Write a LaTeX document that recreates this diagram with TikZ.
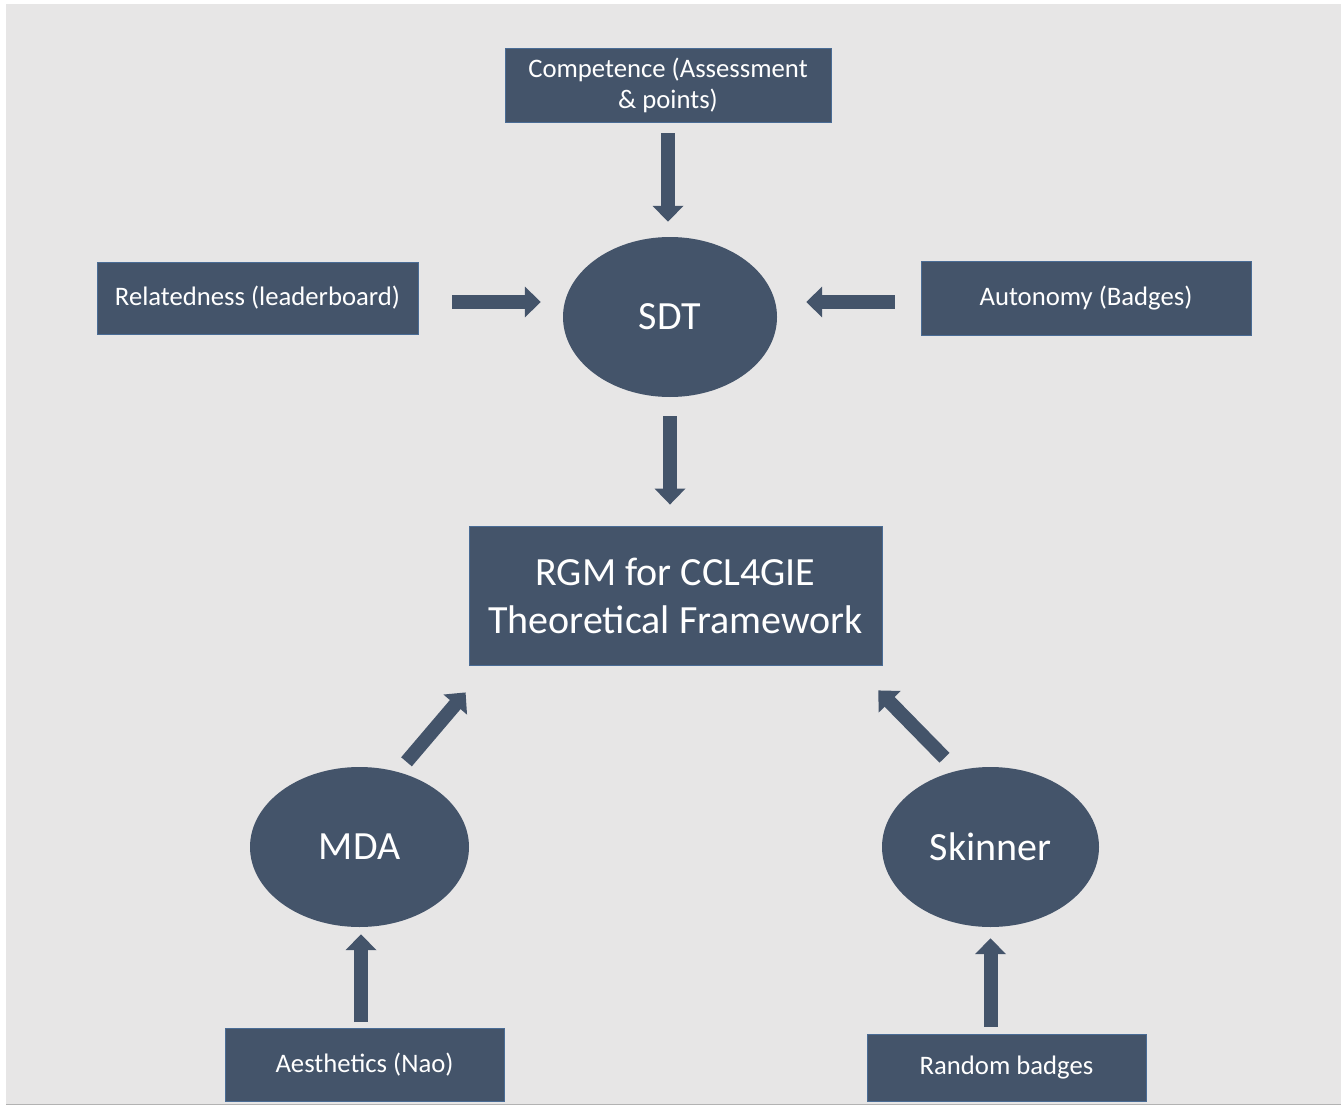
\documentclass[tikz,border=0pt]{standalone}
\usepackage{fontspec}
\setsansfont{Carlito}
\usetikzlibrary{arrows.meta,calc,shapes.geometric}
\definecolor{slate}{HTML}{44546A}
\definecolor{slateedge}{HTML}{4A6C95}
\definecolor{paper}{HTML}{E7E6E6}
\begin{document}
\begin{tikzpicture}[
  x=1pt, y=-1pt,
  font=\sffamily,
  box/.style={draw=slateedge, fill=slate, line width=0.8pt, text=white, align=center, inner sep=0pt, font=\sffamily\fontsize{26.7}{31}\selectfont},
  bigbox/.style={box, font=\sffamily\fontsize{40}{48}\selectfont},
  blob/.style={ellipse, fill=slate, text=white, inner sep=0pt, font=\sffamily\fontsize{40}{44}\selectfont},
  flow/.style={draw=slate, line width=14pt, -{Triangle[width=30pt,length=16pt]}}
]
\useasboundingbox (0,0) rectangle (1341,1110);
\fill[paper] (6,4) rectangle (1341,1104);
\draw[gray!60, line width=1pt] (6,1104.5) -- (1341,1104.5);

% nodes
\node[box, minimum width=326pt, minimum height=74pt] (comp) at (668,85) {Competence (Assessment\\\& points)};
\node[box, minimum width=321pt, minimum height=72pt] (rel) at (257.5,298) {Relatedness (leaderboard)};
\node[box, minimum width=330pt, minimum height=74pt] (aut) at (1086,298) {Autonomy (Badges)};
\node[blob, minimum width=214pt, minimum height=160pt] (sdt) at (670,317) {SDT};
\node[bigbox, minimum width=413pt, minimum height=139pt] (rgm) at (675.5,595.5) {RGM for CCL4GIE\\Theoretical Framework};
\node[blob, minimum width=219pt, minimum height=160pt] (mda) at (359.5,847) {MDA};
\node[blob, minimum width=217pt, minimum height=160pt] (skin) at (990.5,847) {Skinner};
\node[box, minimum width=279pt, minimum height=73pt] (aes) at (364.5,1064.5) {Aesthetics (Nao)};
\node[box, minimum width=279pt, minimum height=67pt] (rand) at (1006.5,1067.5) {Random badges};

% arrow ends
\coordinate (relout) at ($(rel.east)+(0,4)$);
\coordinate (autout) at ($(aut.west)+(0,4)$);

% arrows
\draw[flow, shorten <=11pt, shorten >=15pt] (comp.south) -- (comp.south |- sdt.north);
\draw[flow, shorten <=34pt, shorten >=22pt] (relout) -- (relout -| sdt.west);
\draw[flow, shorten <=26pt, shorten >=29pt] (autout) -- (autout -| sdt.east);
\draw[flow, shorten <=19pt, shorten >=21pt] (sdt.south) -- (sdt.south |- rgm.north);
\draw[flow] ($(mda.north)+(47,-5)$) -- ($(rgm.south west)+(-3,27)$);
\draw[flow] ($(skin.north)+(-46,-9)$) -- ($(rgm.south east)+(-4,25)$);
\draw[flow, shorten <=6pt, shorten >=7pt] ($(mda.south)+(1.5,101)$) -- ($(mda.south)+(1.5,0)$);
\draw[flow, shorten <=7pt, shorten >=11pt] (skin.south |- rand.north) -- (skin.south);
\end{tikzpicture}
\end{document}
